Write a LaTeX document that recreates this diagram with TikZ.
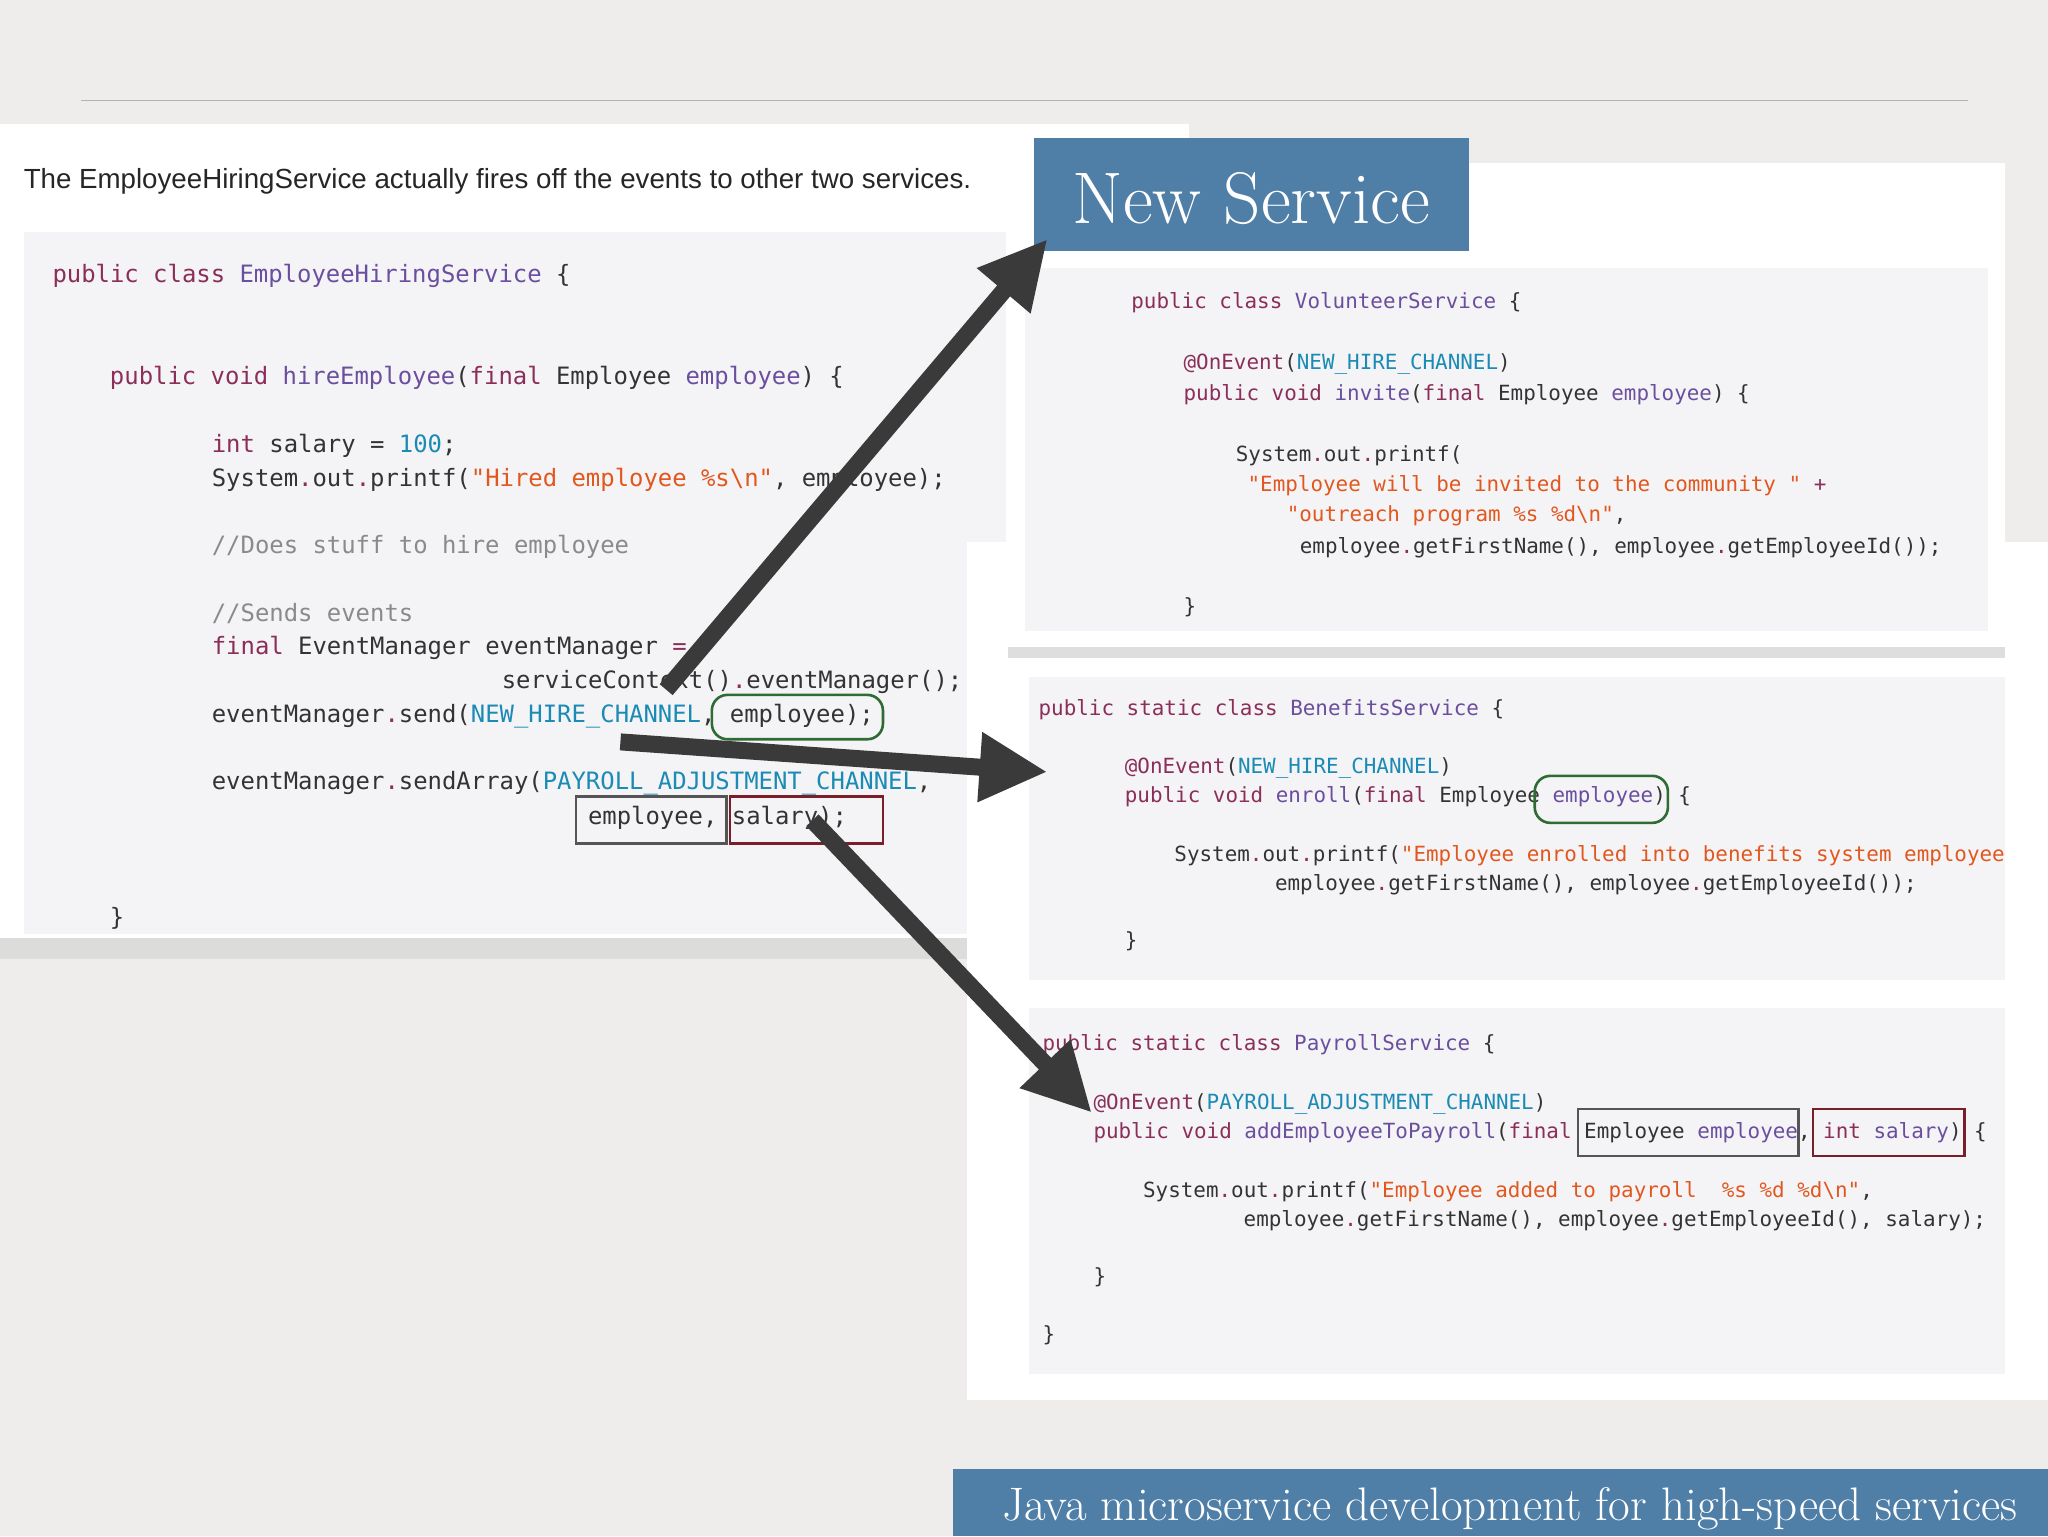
\documentclass[tikz,border=0pt]{standalone}
\usepackage{fontspec}
\usetikzlibrary{arrows.meta}
\newfontfamily\monofam{DejaVu Sans Mono}
\newfontfamily\sansfam{Liberation Sans}
\definecolor{bgc}{HTML}{EEEDEB}
\definecolor{codebg}{HTML}{F4F4F6}
\definecolor{kwc}{HTML}{8B2E5A}
\definecolor{clc}{HTML}{6B4E9E}
\definecolor{stc}{HTML}{E2571E}
\definecolor{cnc}{HTML}{1B8BB5}
\definecolor{cmc}{HTML}{8A8A8A}
\definecolor{fgc}{HTML}{333333}
\definecolor{arrc}{HTML}{3A3A3A}
\definecolor{bannerc}{HTML}{4F7EA6}
\definecolor{grn}{HTML}{2E6B35}
\definecolor{mar}{HTML}{7A1F2A}
\definecolor{gbox}{HTML}{555555}
\newcommand{\kw}[1]{\textcolor{kwc}{#1}}
\newcommand{\cl}[1]{\textcolor{clc}{#1}}
\newcommand{\st}[1]{\textcolor{stc}{#1}}
\newcommand{\cn}[1]{\textcolor{cnc}{#1}}
\newcommand{\cm}[1]{\textcolor{cmc}{#1}}
\newcommand{\bs}{\textbackslash}
\tikzset{
 codeL/.style={anchor=west,inner sep=0,text=fgc,font=\monofam\fontsize{18.3}{22}\selectfont},
 codeR/.style={anchor=west,inner sep=0,text=fgc,font=\monofam\fontsize{16}{20}\selectfont},
 bigarrow/.style={draw=arrc,line width=13pt,-{Triangle[length=52pt,width=50pt]}},
 panel/.style={fill=white,draw=none},
 cbg/.style={fill=codebg,draw=none},
 hlg/.style={draw=grn,line width=2pt,rounded corners=12pt},
 hlgray/.style={draw=gbox,line width=2pt},
 hlm/.style={draw=mar,line width=2pt},
}
\begin{document}
\begin{tikzpicture}[x=1pt,y=-1pt]
\useasboundingbox (0,0) rectangle (1568,1176);
\fill[bgc] (0,0) rectangle (1568,1176);
\draw[gray!60,line width=1pt] (62,77) -- (1507,77);
% left panel
\fill[black!20,opacity=0.5] (0,712) rectangle (760,734);
\fill[panel] (0,95) rectangle (910,718);
\fill[cbg] (18,178) rectangle (770,715);
\node[anchor=west,inner sep=0,font=\sansfam\fontsize{21.2}{24}\selectfont,text=black!85] (title) at (18,139) {The EmployeeHiringService actually fires off the events to other two services.};
\node[codeL] (a1) at (40,211) {\kw{public} \kw{class} \cl{EmployeeHiringService} \{};
\node[codeL] (a2) at (84,289) {\kw{public} \kw{void} \cl{hireEmployee}(\kw{final} Employee \cl{employee}) \{};
\node[codeL] (a3) at (162,341) {\kw{int} salary = \cn{100};};
\node[codeL] (a4) at (162,367) {System\kw{.}out\kw{.}printf(\st{"Hired employee \%s\bs n"}, employee);};
\node[codeL] (a5) at (162,419) {\cm{//Does stuff to hire employee}};
\node[codeL] (a6) at (162,470) {\cm{//Sends events}};
\node[codeL] (a7) at (162,496) {\kw{final} EventManager eventManager \kw{=}};
\node[codeL] (a8) at (384,522) {serviceContext()\kw{.}eventManager();};
\node[codeL] (a9) at (162,548) {eventManager\kw{.}send(\cn{NEW\_HIRE\_CHANNEL}, employee);};
\node[codeL] (a10) at (162,600) {eventManager\kw{.}sendArray(\cn{PAYROLL\_ADJUSTMENT\_CHANNEL},};
\node[codeL] (a11) at (450,626) {employee, salary);};
\node[codeL] (a12) at (84,703) {\}};
\draw[hlg] (545,532) rectangle (676,566);
\draw[hlgray] (441,610) rectangle (556,646);
\draw[hlm] (559,610) rectangle (676,646);
% right lower panel
\fill[panel] (740,415) rectangle (1568,1072);
\fill[cbg] (788,518) rectangle (1535,750);
\fill[cbg] (788,772) rectangle (1535,1052);
% right top panel
\fill[black!25,opacity=0.5] (772,490) rectangle (1535,504);
\fill[panel] (772,125) rectangle (1535,495);
\fill[cbg] (785,205) rectangle (1522,483);
\node[codeR] (v1) at (866,232) {\kw{public} \kw{class} \cl{VolunteerService} \{};
\node[codeR] (v2) at (906,279) {\kw{@OnEvent}(\cn{NEW\_HIRE\_CHANNEL})};
\node[codeR] (v3) at (906,302) {\kw{public} \kw{void} \cl{invite}(\kw{final} Employee \cl{employee}) \{};
\node[codeR] (v4) at (946,349) {System\kw{.}out\kw{.}printf(};
\node[codeR] (v5) at (955,372) {\st{"Employee will be invited to the community "} \kw{+}};
\node[codeR] (v6) at (985,395) {\st{"outreach program \%s \%d\bs n"},};
\node[codeR] (v7) at (995,419) {employee\kw{.}getFirstName(), employee\kw{.}getEmployeeId());};
\node[codeR] (v8) at (906,465) {\}};
% benefits
\node[codeR] (b1) at (795,543) {\kw{public} \kw{static} \kw{class} \cl{BenefitsService} \{};
\node[codeR] (b2) at (861,588) {\kw{@OnEvent}(\cn{NEW\_HIRE\_CHANNEL})};
\node[codeR] (b3) at (861,610) {\kw{public} \kw{void} \cl{enroll}(\kw{final} Employee \cl{employee}) \{};
\node[codeR] (b4) at (899,655) {System\kw{.}out\kw{.}printf(\st{"Employee enrolled into benefits system employee}};
\node[codeR] (b5) at (976,677) {employee\kw{.}getFirstName(), employee\kw{.}getEmployeeId());};
\node[codeR] (b6) at (861,721) {\}};
\draw[hlg] (1175,594) rectangle (1277,630);
% payroll
\node[codeR] (p1) at (798,800) {\kw{public} \kw{static} \kw{class} \cl{PayrollService} \{};
\node[codeR] (p2) at (837,845) {\kw{@OnEvent}(\cn{PAYROLL\_ADJUSTMENT\_CHANNEL})};
\node[codeR] (p3) at (837,867) {\kw{public} \kw{void} \cl{addEmployeeToPayroll}(\kw{final} Employee \cl{employee}, \kw{int} \cl{salary}) \{};
\node[codeR] (p4) at (875,912) {System\kw{.}out\kw{.}printf(\st{"Employee added to payroll\ \ \%s \%d \%d\bs n"},};
\node[codeR] (p5) at (952,935) {employee\kw{.}getFirstName(), employee\kw{.}getEmployeeId(), salary);};
\node[codeR] (p6) at (837,978) {\}};
\node[codeR] (p7) at (798,1022) {\}};
\draw[hlgray] (1208,849) rectangle (1377,885);
\draw[hlm] (1388,849) rectangle (1504,885);
% banners
\fill[bannerc] (792,106) rectangle (1125,192);
\node[text=white,inner sep=0,font=\fontsize{56}{60}\selectfont] (ns) at (958,152) {New Service};
\fill[bannerc] (730,1125) rectangle (1568,1176);
\node[text=white,inner sep=0,anchor=east,font=\fontsize{36}{40}\selectfont] (ft) at (1545,1155) {Java microservice development for high-speed services};
% arrows
\coordinate (s1) at (510,528); \coordinate (e1) at (802,183);
\coordinate (s2) at (475,568); \coordinate (e2) at (802,591);
\coordinate (s3) at (622,628); \coordinate (e3) at (836,852);
\draw[bigarrow] (s1) -- (e1);
\draw[bigarrow] (s2) -- (e2);
\draw[bigarrow] (s3) -- (e3);
\end{tikzpicture}
\end{document}
